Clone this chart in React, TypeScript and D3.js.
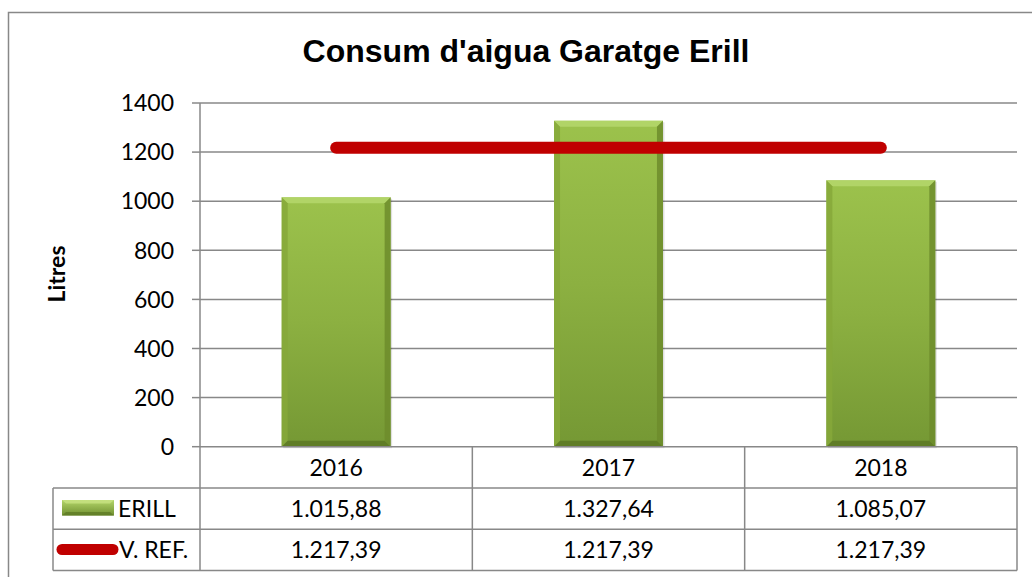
import React from "react";
import * as d3 from "d3";

const categories = ["2016", "2017", "2018"];
const erillValues = [1015.88, 1327.64, 1085.07];
const refValues = [1217.39, 1217.39, 1217.39];
const erillLabels = ["1.015,88", "1.327,64", "1.085,07"];
const refLabels = ["1.217,39", "1.217,39", "1.217,39"];
const yTicks = [0, 200, 400, 600, 800, 1000, 1200, 1400];
const seriesNames = ["ERILL", "V. REF."];
const title = "Consum d'aigua Garatge Erill";
const yTitle = "Litres";

const W = 1032;
const H = 577;
const plotLeft = 200;
const plotRight = 1017;
const plotTop = 103;
const plotBottom = 446.7;
const rowH = 41.3;
const tableLeft = 53;
const gridColor = "#888888";
const bodyFont = "Lato, 'Open Sans', sans-serif";

function Bar({ x, y, w, h, id }: { x: number; y: number; w: number; h: number; id: string }) {
  const b = 6;
  return (
    <g>
      <rect x={x + 1.5} y={y + 1.5} width={w} height={h} fill="#000" opacity={0.12} />
      <rect x={x} y={y} width={w} height={h} fill={`url(#${id})`} />
      {/* top bevel */}
      <polygon points={`${x},${y} ${x + w},${y} ${x + w - b},${y + b} ${x + b},${y + b}`} fill="#b4d66a" opacity={0.9} />
      {/* left bevel */}
      <polygon points={`${x},${y} ${x + b},${y + b} ${x + b},${y + h - b} ${x},${y + h}`} fill="#86a83a" opacity={0.85} />
      {/* right bevel */}
      <polygon points={`${x + w},${y} ${x + w - b},${y + b} ${x + w - b},${y + h - b} ${x + w},${y + h}`} fill="#6d8c2c" opacity={0.85} />
      {/* bottom bevel */}
      <polygon points={`${x},${y + h} ${x + b},${y + h - b} ${x + w - b},${y + h - b} ${x + w},${y + h}`} fill="#5e7a25" opacity={0.9} />
    </g>
  );
}

export default function App() {
  const x = d3.scaleBand<string>().domain(categories).range([plotLeft, plotRight]).padding(0);
  const y = d3.scaleLinear().domain([0, 1400]).range([plotBottom, plotTop]);
  const bw = x.bandwidth() * 0.4;
  const cx = (c: string) => (x(c) as number) + x.bandwidth() / 2;

  const line = d3
    .line<number>()
    .x((_, i) => cx(categories[i]))
    .y((d) => y(d));

  const rows = [plotBottom, plotBottom + rowH, plotBottom + 2 * rowH, plotBottom + 3 * rowH];
  const colEdges = [plotLeft, ...categories.map((c) => (x(c) as number) + x.bandwidth())];

  return (
    <svg
      width={W}
      height={H}
      style={{ position: "absolute", left: 0, top: 0, background: "#fff" }}
      fontFamily={bodyFont}
    >
      <defs>
        <linearGradient id="barGrad" x1="0" y1="0" x2="0" y2="1">
          <stop offset="0" stopColor="#9cc24c" />
          <stop offset="0.5" stopColor="#8cb041" />
          <stop offset="1" stopColor="#759834" />
        </linearGradient>
        <linearGradient id="legGrad" x1="0" y1="0" x2="0" y2="1">
          <stop offset="0" stopColor="#b4d66a" />
          <stop offset="1" stopColor="#6f9030" />
        </linearGradient>
      </defs>
      <rect x={0} y={0} width={W} height={H} fill="#fff" />
      {/* outer border */}
      <rect x={8.5} y={12.5} width={1040} height={600} fill="none" stroke={gridColor} strokeWidth={1.5} />

      {/* title */}
      <text
        x={526}
        y={62}
        textAnchor="middle"
        fontFamily="'Liberation Sans', Arial, sans-serif"
        fontWeight="bold"
        fontSize={32}
        fill="#000"
      >
        {title}
      </text>

      {/* gridlines */}
      {yTicks.map((t) => (
        <g key={t}>
          {t > 0 && (
            <line x1={plotLeft} x2={plotRight} y1={y(t)} y2={y(t)} stroke={gridColor} strokeWidth={1.5} />
          )}
          <line x1={192} x2={plotLeft} y1={y(t)} y2={y(t)} stroke={gridColor} strokeWidth={1.5} />
          <text x={174} y={y(t)} dy="0.36em" textAnchor="end" fontSize={23} fill="#000">
            {t}
          </text>
        </g>
      ))}

      {/* y title */}
      <text
        transform={`translate(65,274) rotate(-90)`}
        textAnchor="middle"
        fontWeight="bold"
        fontSize={23}
        fill="#000"
      >
        {yTitle}
      </text>

      {/* bars */}
      {categories.map((c, i) => {
        const top = y(erillValues[i]);
        return <Bar key={c} id="barGrad" x={cx(c) - bw / 2} y={top} w={bw} h={y(0) - top} />;
      })}

      {/* reference line */}
      <path d={line(refValues) || ""} fill="none" stroke="#c00000" strokeWidth={12} strokeLinecap="round" />

      {/* table lines */}
      <line x1={plotLeft} x2={plotRight} y1={rows[0]} y2={rows[0]} stroke={gridColor} strokeWidth={1.5} />
      {rows.slice(1).map((r, i) => (
        <line key={i} x1={tableLeft} x2={plotRight} y1={r} y2={r} stroke={gridColor} strokeWidth={1.5} />
      ))}
      <line x1={plotLeft} x2={plotLeft} y1={plotTop} y2={rows[3]} stroke={gridColor} strokeWidth={1.5} />
      <line x1={tableLeft} x2={tableLeft} y1={rows[1]} y2={rows[3]} stroke={gridColor} strokeWidth={1.5} />
      {colEdges.slice(1).map((e, i) => (
        <line key={i} x1={e} x2={e} y1={rows[0]} y2={rows[3]} stroke={gridColor} strokeWidth={1.5} />
      ))}

      {/* table text */}
      {categories.map((c, i) => (
        <g key={c}>
          <text x={cx(c)} y={(rows[0] + rows[1]) / 2} dy="0.36em" textAnchor="middle" fontSize={23} fill="#000">
            {c}
          </text>
          <text x={cx(c)} y={(rows[1] + rows[2]) / 2} dy="0.36em" textAnchor="middle" fontSize={23} fill="#000">
            {erillLabels[i]}
          </text>
          <text x={cx(c)} y={(rows[2] + rows[3]) / 2} dy="0.36em" textAnchor="middle" fontSize={23} fill="#000">
            {refLabels[i]}
          </text>
        </g>
      ))}

      {/* legend keys */}
      <g>
        <rect x={62} y={500} width={52} height={15.5} fill="url(#legGrad)" />
        <polygon points="62,500 114,500 110,503.5 66,503.5" fill="#c8e283" opacity={0.8} />
        <polygon points="62,515.5 114,515.5 110,512 66,512" fill="#5e7a25" opacity={0.8} />
        <text x={118} y={(rows[1] + rows[2]) / 2} dy="0.36em" fontSize={23} fill="#000">
          {seriesNames[0]}
        </text>
        <line x1={62} x2={113} y1={549.5} y2={549.5} stroke="#c00000" strokeWidth={11} strokeLinecap="round" />
        <text x={119} y={(rows[2] + rows[3]) / 2} dy="0.36em" fontSize={23} fill="#000">
          {seriesNames[1]}
        </text>
      </g>
    </svg>
  );
}
